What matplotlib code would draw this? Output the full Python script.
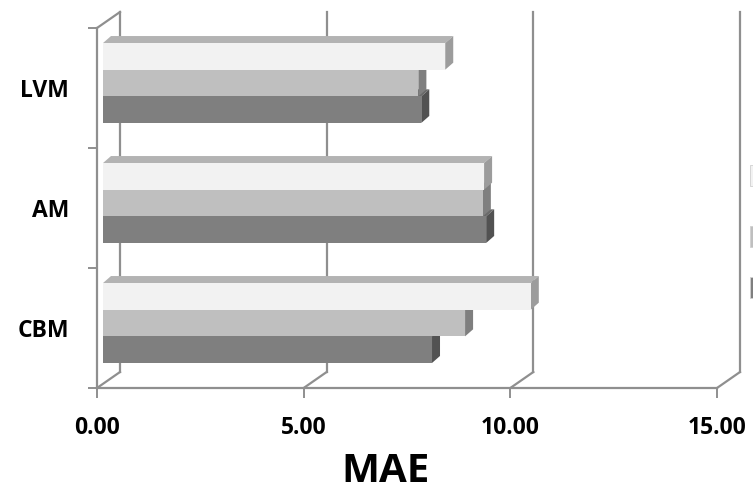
import matplotlib
matplotlib.use("Agg")
import matplotlib.pyplot as plt
from matplotlib.patches import Polygon, Rectangle
from matplotlib.transforms import offset_copy

categories = ["CBM", "AM", "LVM"]
# three series per category, listed bottom bar to top bar
series_dark = [7.96, 9.27, 7.70]
series_mid = [8.76, 9.19, 7.63]
series_light = [10.35, 9.22, 8.28]
x_ticks = [0, 5, 10, 15]
x_tick_labels = ["0.00", "5.00", "10.00", "15.00"]
x_label = "MAE"

# front, top and side shade for each series
styles = [
    ("#7f7f7f", "#6a6a6a", "#525252"),
    ("#bfbfbf", "#a3a3a3", "#7f7f7f"),
    ("#f2f2f2", "#b3b3b3", "#9c9c9c"),
]
grid = "#8f8f8f"

plt.rcParams["font.family"] = ["Open Sans", "DejaVu Sans"]

W, H = 753, 490
fig = plt.figure(figsize=(W / 100, H / 100), dpi=100)
ax = fig.add_axes([97 / W, 102 / H, 620 / W, 360 / H])
ax.set_xlim(0, 15)
ax.set_ylim(0, 3)
ax.set_facecolor("none")

# pixel -> data conversion for the fake depth
px_x = 620 / 15
px_y = 360 / 3

# back wall and floor
back = offset_copy(ax.transData, fig=fig, x=23, y=16, units="dots")
bx, by = 23 / px_x, 16 / px_y
for xv in x_ticks:
    ax.plot([xv, xv], [0, 3.0], transform=back, color=grid, lw=1.6,
            clip_on=False, zorder=1)
    ax.plot([xv, xv + bx], [0, by], color=grid, lw=1.6, clip_on=False, zorder=1)
ax.plot([0, bx], [3, 3 + by], color=grid, lw=1.6, clip_on=False, zorder=1)

# bars sit a little behind the front plane
bar_tr = offset_copy(ax.transData, fig=fig, x=6, y=5, units="dots")
dx, dy = 8 / px_x, 7 / px_y
h = 0.222

for k, vals in enumerate([series_dark, series_mid, series_light]):
    front, top, side = styles[k]
    centers = [i + 0.5 + (k - 1) * h for i in range(len(categories))]
    z = 3 + k
    for c, v in zip(centers, vals):
        yb, yt = c - h / 2, c + h / 2
        ax.add_patch(Polygon([(0, yt), (v, yt), (v + dx, yt + dy), (dx, yt + dy)],
                             closed=True, facecolor=top, edgecolor="none",
                             transform=bar_tr, zorder=z, clip_on=False))
        ax.add_patch(Polygon([(v, yb), (v, yt), (v + dx, yt + dy), (v + dx, yb + dy)],
                             closed=True, facecolor=side, edgecolor="none",
                             transform=bar_tr, zorder=z, clip_on=False))
    ax.barh(centers, vals, height=h, color=front, linewidth=0,
            transform=bar_tr, zorder=z, clip_on=False)

ax.set_xlim(0, 15)
ax.set_ylim(0, 3)

for s in ["top", "right"]:
    ax.spines[s].set_visible(False)
for s in ["left", "bottom"]:
    ax.spines[s].set_color(grid)
    ax.spines[s].set_linewidth(1.6)

ax.set_xticks(x_ticks, x_tick_labels, fontweight="bold", fontsize=16.5)
ax.tick_params(axis="x", length=7.2, width=1.4, color=grid, pad=13)
ax.set_yticks([0, 1, 2, 3], ["", "", "", ""])
ax.tick_params(axis="y", which="major", length=6.5, width=1.4, color=grid)
ax.set_yticks([0.5, 1.5, 2.5], categories, minor=True, fontweight="bold",
              fontsize=16.5)
ax.tick_params(axis="y", which="minor", length=0, pad=20)

fig.text(386 / W, 1 - 471 / H, x_label, ha="center", va="center",
         fontsize=29, fontweight="bold")

# legend keys, mostly outside the canvas
for (front, _, _), top_px in zip(styles[::-1], [165, 226, 277]):
    fig.add_artist(Rectangle((750 / W, 1 - (top_px + 21) / H), 12 / W, 21 / H,
                             transform=fig.transFigure, facecolor=front,
                             edgecolor="#d0d0d0", lw=0.6))

fig.savefig("out.png", dpi=100)
